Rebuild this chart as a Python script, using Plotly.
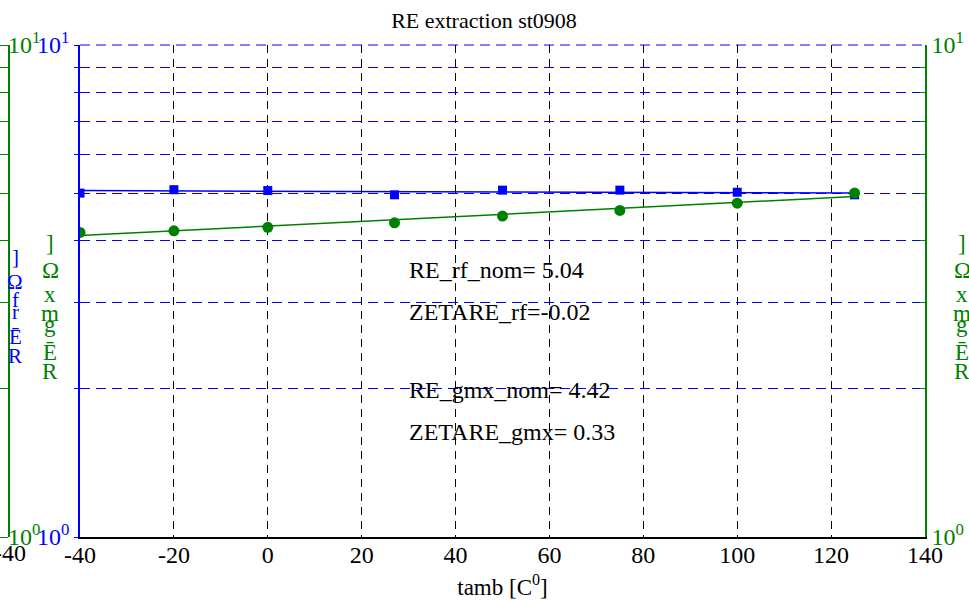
import plotly.graph_objects as go

# ---------------- data ----------------
temp = [-40, -20, 0, 27, 50, 75, 100, 125]
re_rf = [5.00, 5.08, 5.06, 4.96, 5.07, 5.07, 5.02, 4.96]
re_gmx = [4.16, 4.19, 4.26, 4.35, 4.49, 4.61, 4.77, 5.00]
fit_temp = [-40, 125]
re_rf_fit = [5.06, 5.00]
re_gmx_fit = [4.10, 4.92]

x_ticks = [-40, -20, 0, 20, 40, 60, 80, 100, 120, 140]
x_ticktext = ["-40", "-20", "0", "20", "40", "60", "80", "100", "120", "140"]
y_tickvals = [1, 2, 3, 4, 5, 6, 7, 8, 9, 10]
y_ticktext = ["10<sup>0</sup>", "", "", "", "", "", "", "", "", "10<sup>1</sup>"]

title_text = "RE extraction st0908"
xlabel_text = "tamb [C<sup>0</sup>]"
info_lines = ["RE_rf_nom= 5.04", "ZETARE_rf=-0.02", "RE_gmx_nom= 4.42", "ZETARE_gmx= 0.33"]
# stacked (upright) y-label glyphs, top to bottom
green_label = ["]", "Ω", "x", "m", "g", "Ē", "R"]
blue_label = ["]", "Ω", "f", "r", "Ē", "R"]

# ---------------- layout helpers ----------------
W, H = 969, 601
L, R, T, B = 10, 44, 45, 64
PW = W - L - R
PH = H - T - B


def px(xp):
    return (xp - L) / PW


def py(yp):
    return (H - B - yp) / PH


FONT = "Liberation Serif, Times New Roman, serif"
BLUE = "#0000ff"
GREEN = "#008000"

fig = go.Figure()

# helper traces so the green axes are drawn
fig.add_trace(go.Scatter(x=[None], y=[None], xaxis="x2", yaxis="y2", showlegend=False, hoverinfo="skip"))
fig.add_trace(go.Scatter(x=[None], y=[None], xaxis="x", yaxis="y3", showlegend=False, hoverinfo="skip"))

fig.add_trace(go.Scatter(x=fit_temp, y=re_rf_fit, mode="lines",
                         line=dict(color=BLUE, width=1.5), showlegend=False))
fig.add_trace(go.Scatter(x=temp, y=re_rf, mode="markers",
                         marker=dict(symbol="square", size=9, color=BLUE), showlegend=False))
fig.add_trace(go.Scatter(x=fit_temp, y=re_gmx_fit, mode="lines",
                         line=dict(color=GREEN, width=1.5), showlegend=False))
fig.add_trace(go.Scatter(x=temp, y=re_gmx, mode="markers",
                         marker=dict(symbol="circle", size=11, color=GREEN), showlegend=False))

annotations = []
# info texts
for txt, yp in zip(info_lines, [270, 312, 390, 432]):
    annotations.append(dict(text=txt, xref="paper", yref="paper", x=px(407), y=py(yp),
                            xanchor="left", yanchor="middle", showarrow=False,
                            font=dict(family=FONT, size=24, color="black")))

# stacked y labels
for ch, yp in zip(green_label, [244, 270, 294, 313, 324, 352, 371]):
    for xc in (50, 962):
        annotations.append(dict(text=ch, xref="paper", yref="paper", x=px(xc), y=py(yp),
                                xanchor="center", yanchor="middle", showarrow=False,
                                font=dict(family=FONT, size=23, color=GREEN)))
for ch, yp in zip(blue_label, [257, 282, 300, 312, 337, 356]):
    annotations.append(dict(text=ch, xref="paper", yref="paper", x=px(15), y=py(yp),
                            xanchor="center", yanchor="middle", showarrow=False,
                            font=dict(family=FONT, size=21, color=BLUE)))

shapes = [dict(type="line", xref="x domain", yref="y domain", x0=0, x1=1, y0=1, y1=1,
               line=dict(color=BLUE, width=1, dash="10px,6px"), layer="below")]

fig.update_layout(
    width=W, height=H,
    margin=dict(l=L, r=R, t=T, b=B, autoexpand=False),
    paper_bgcolor="white", plot_bgcolor="rgba(0,0,0,0)",
    font=dict(family=FONT, color="black"),
    title=dict(text=title_text, x=484 / W, xanchor="center",
               y=1 - 20 / H, yanchor="middle", yref="container",
               font=dict(family=FONT, size=22, color="black")),
    xaxis=dict(domain=[px(80), 1], range=[-40, 140], tickvals=x_ticks, ticktext=x_ticktext,
               automargin=False,
               showgrid=True, gridcolor="black", griddash="8px,6px", gridwidth=1,
               showline=True, linecolor="black", linewidth=1.5, zeroline=False,
               ticks="", ticklabelstandoff=-5,
               tickfont=dict(family=FONT, size=24, color="black"),
               anchor="y",
               title=dict(text=xlabel_text, standoff=12,
                          font=dict(family=FONT, size=23, color="black"))),
    yaxis=dict(domain=[0, 1], type="log", range=[0, 1], tickvals=y_tickvals, ticktext=y_ticktext,
               automargin=False,
               showgrid=True, gridcolor=BLUE, griddash="10px,6px", gridwidth=1,
               showline=True, linecolor=BLUE, linewidth=1.5, zeroline=False,
               ticks="outside", ticklen=4, tickcolor=BLUE,
               tickfont=dict(family=FONT, size=24, color=BLUE), anchor="x"),
    xaxis2=dict(domain=[0, 1], range=[-40, 140], tickvals=[-40], ticktext=["-40"], anchor="y2",
                automargin=False, ticklabeloverflow="allow", ticklabelstandoff=-1,
                showgrid=False, showline=False, zeroline=False, ticks="",
                tickfont=dict(family=FONT, size=24, color="black")),
    yaxis2=dict(domain=[0, 1], type="log", range=[0, 1], tickvals=y_tickvals, ticktext=y_ticktext,
                automargin=False,
                anchor="x2", side="left", showgrid=False, zeroline=False,
                showline=True, linecolor=GREEN, linewidth=1.5,
                ticks="outside", ticklen=9, tickcolor=GREEN,
                ticklabelposition="inside", ticklabeloverflow="allow",
                tickfont=dict(family=FONT, size=24, color=GREEN)),
    yaxis3=dict(type="log", range=[0, 1], tickvals=y_tickvals, ticktext=y_ticktext,
                automargin=False,
                overlaying="y", anchor="x", side="right", showgrid=False, zeroline=False,
                showline=True, linecolor=GREEN, linewidth=1.5,
                ticks="inside", ticklen=5, tickcolor=GREEN,
                tickfont=dict(family=FONT, size=24, color=GREEN)),
    annotations=annotations,
    shapes=shapes,
)

fig.write_html("out.html")
